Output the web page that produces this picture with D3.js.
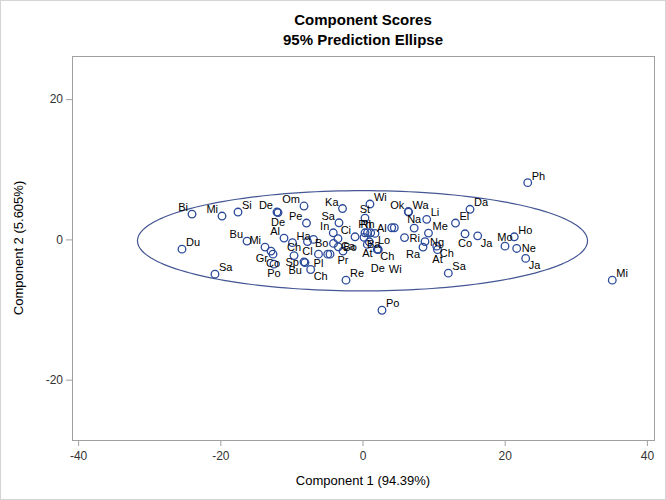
<!DOCTYPE html>
<html>
<head>
<meta charset="utf-8">
<script src="https://cdn.jsdelivr.net/npm/d3@7"></script>
<style>
  body { margin: 0; background: #fff; }
  text { font-family: "Liberation Sans", Arial, sans-serif; }
</style>
</head>
<body>
<div id="chart"></div>
<script>

var names = ["Du", "Bi", "Mi", "Si", "Sa", "Bu", "Mi", "Gr", "Co", "Po",
    "De", "De", "Om", "Pe", "Al", "Ha", "Ch", "Cl", "", "Sp",
    "Bu", "Ch", "Pl", "In", "Bo", "Ca", "Bo", "Pr", "", "",
    "Ka", "Sa", "Ci", "Wi", "St", "Ph", "Rh", "", "Lo", "Ba",
    "", "At", "Ch", "De", "Wi", "Re", "Po", "Al", "", "Ok",
    "Wa", "Li", "Na", "Me", "Ri", "Ng", "Ra", "Ch", "At", "Da",
    "El", "Co", "Ja", "Mo", "Ho", "Ne", "Ja", "Sa", "Ph", "Mi"];

var comp1 = [-25.39, -23.98, -19.76, -17.51, -20.75, -16.24, -13.71, -12.87, -12.59, -12.45,
    -12.03, -11.88, -8.23, -7.88, -11.04, -9.85, -9.63, -7.74, -6.89, -8.23,
    -8.09, -7.29, -6.19, -4.11, -4.08, -3.45, -3.40, -2.74, -4.89, -4.57,
    -2.81, -3.31, -1.05, 1.05, 0.35, 0.35, 0.70, 1.15, 1.76, 0.21,
    0.96, 0.68, 2.08, 2.15, 2.22, -2.32, 2.74, 4.11, 4.47, 6.44,
    6.48, 9.03, 7.27, 9.28, 5.91, 8.79, 8.51, 10.44, 10.55, 15.12,
    13.08, 14.42, 16.20, 20.04, 21.35, 21.69, 22.95, 12.07, 23.24, 35.13];

var comp2 = [-1.39, 3.61, 3.33, 3.90, -4.96, -0.24, -1.10, -1.67, -2.10, -3.53,
    3.90, 3.83, 4.76, 2.33, 0.19, -0.46, -2.31, -0.31, 0.00, -3.20,
    -3.31, -4.29, -2.10, 0.94, -0.57, 0.11, -1.06, -1.67, -2.10, -2.10,
    4.40, 2.37, 0.37, 5.04, 3.04, 0.94, 0.97, 0.94, 0.86, 0.29,
    -0.34, -0.71, -1.43, -1.39, -1.46, -5.81, -10.10, 1.66, 1.66, 3.97,
    3.90, 2.86, 1.61, 0.90, 0.26, -0.31, -1.10, -0.96, -1.46, 4.29,
    2.33, 0.80, 0.51, -0.96, 0.37, -1.29, -2.71, -4.81, 8.09, -5.81];

// where each label sits around its marker
var labelPos = ["ur", "ul", "ul", "ur", "ur", "ul", "ul", "ll", "b", "b",
    "ul", "b", "ul", "ul", "ul", "ur", "a", "b", "r", "l",
    "ll", "lr", "b", "ul", "l", "lr", "r", "b", "r", "r",
    "ul", "ul", "ul", "ur", "a", "a", "a", "r", "lr", "lr",
    "r", "b", "lr", "b2", "br2", "ur", "ur", "l", "r", "ul",
    "ur", "ur", "a", "ur", "r", "r", "ll", "lr", "b", "ur",
    "ur", "b", "lr", "a", "ur", "r", "lr", "ur", "ur", "ur"];

var xTicks = [-40, -20, 0, 20, 40];
var yTicks = [-20, 0, 20];

// 95% prediction ellipse: centre and semi axes in score units
var ellipseCenter = [0, -0.2];
var ellipseRadii = [31.65, 7.15];

var titleLines = ["Component Scores", "95% Prediction Ellipse"];
var xTitle = "Component 1 (94.39%)";
var yTitle = "Component 2 (5.605%)";

var W = 666, H = 500;
var margin = { top: 56, right: 12, bottom: 60, left: 72 },
    width = W - margin.left - margin.right,
    height = H - margin.top - margin.bottom;

var svg = d3.select("#chart")
    .append("svg")
    .attr("width", W)
    .attr("height", H);

// outer border of the graph
svg.append("rect")
    .attr("x", 0.5).attr("y", 0.5)
    .attr("width", W - 1).attr("height", H - 1)
    .attr("fill", "#fff")
    .attr("stroke", "#d4d4d4");

var g = svg.append("g")
    .attr("transform", "translate(" + margin.left + "," + margin.top + ")");

var x = d3.scaleLinear().domain([-40.86, 41.0]).range([0, width]);
var y = d3.scaleLinear().domain([-28.6, 26.15]).range([height, 0]);

// titles
svg.selectAll(".title")
    .data(titleLines)
    .enter()
    .append("text")
    .attr("class", "title")
    .attr("x", margin.left + width / 2)
    .attr("y", function (d, i) { return 25 + i * 20; })
    .attr("text-anchor", "middle")
    .style("font-size", "15px")
    .style("font-weight", "bold")
    .style("fill", "#000")
    .text(function (d) { return d; });

// axes (plain hyphen for negatives, as in the original)
var fmt = function (d) { return String(d); };
var xAxis = g.append("g")
    .attr("transform", "translate(0," + height + ")")
    .call(d3.axisBottom(x).tickValues(xTicks).tickSize(6).tickPadding(5).tickFormat(fmt));
var yAxis = g.append("g")
    .call(d3.axisLeft(y).tickValues(yTicks).tickSize(6).tickPadding(3).tickFormat(fmt));

[xAxis, yAxis].forEach(function (a) {
    a.select(".domain").remove();
    a.selectAll("line").attr("stroke", "#a0a0a0");
    a.selectAll("text")
        .style("font-size", "12px")
        .style("fill", "#333")
        .style("font-family", "'Liberation Sans', Arial, sans-serif");
});

// plot frame
g.append("rect")
    .attr("x", 0.5).attr("y", 0.5)
    .attr("width", width).attr("height", height)
    .attr("fill", "none")
    .attr("stroke", "#a0a0a0");

g.append("text")
    .attr("x", width / 2)
    .attr("y", height + 45)
    .attr("text-anchor", "middle")
    .style("font-size", "13px")
    .style("fill", "#000")
    .text(xTitle);

g.append("text")
    .attr("transform", "translate(" + (-49) + "," + (height / 2) + ") rotate(-90)")
    .attr("text-anchor", "middle")
    .style("font-size", "13px")
    .style("fill", "#000")
    .text(yTitle);

// ellipse drawn as a closed path through the scales
var angles = d3.range(0, 361, 2);
var ellipseLine = d3.line()
    .x(function (t) { return x(ellipseCenter[0] + ellipseRadii[0] * Math.cos(t * Math.PI / 180)); })
    .y(function (t) { return y(ellipseCenter[1] + ellipseRadii[1] * Math.sin(t * Math.PI / 180)); })
    .curve(d3.curveLinearClosed);

g.append("path")
    .attr("d", ellipseLine(angles))
    .attr("fill", "none")
    .attr("stroke", "#445694")
    .attr("stroke-width", 1.2);

var points = names.map(function (n, i) {
    return { name: n, c1: comp1[i], c2: comp2[i], pos: labelPos[i] };
});

g.selectAll("circle.pt")
    .data(points)
    .enter()
    .append("circle")
    .attr("class", "pt")
    .attr("cx", function (d) { return x(d.c1); })
    .attr("cy", function (d) { return y(d.c2); })
    .attr("r", 3.8)
    .attr("fill", "#fff")
    .attr("fill-opacity", 0)
    .attr("stroke", "#2b4a9a")
    .attr("stroke-width", 1.3);

// label offsets: [dx, dy, anchor]
var offsets = {
    ur: [4, -3, "start"], ul: [-4, -3, "end"],
    lr: [3, 11, "start"], ll: [-3, 11, "end"],
    r: [5, 4, "start"], l: [-5, 4, "end"],
    a: [0, -5, "middle"], b: [0, 13, "middle"],
    b2: [0, 23, "middle"], br2: [17, 23, "middle"]
};

g.selectAll("text.lbl")
    .data(points.filter(function (d) { return d.name !== ""; }))
    .enter()
    .append("text")
    .attr("class", "lbl")
    .attr("x", function (d) { return x(d.c1) + offsets[d.pos][0]; })
    .attr("y", function (d) { return y(d.c2) + offsets[d.pos][1]; })
    .attr("text-anchor", function (d) { return offsets[d.pos][2]; })
    .style("font-size", "11px")
    .style("fill", "#000")
    .text(function (d) { return d.name; });

</script>
</body>
</html>
